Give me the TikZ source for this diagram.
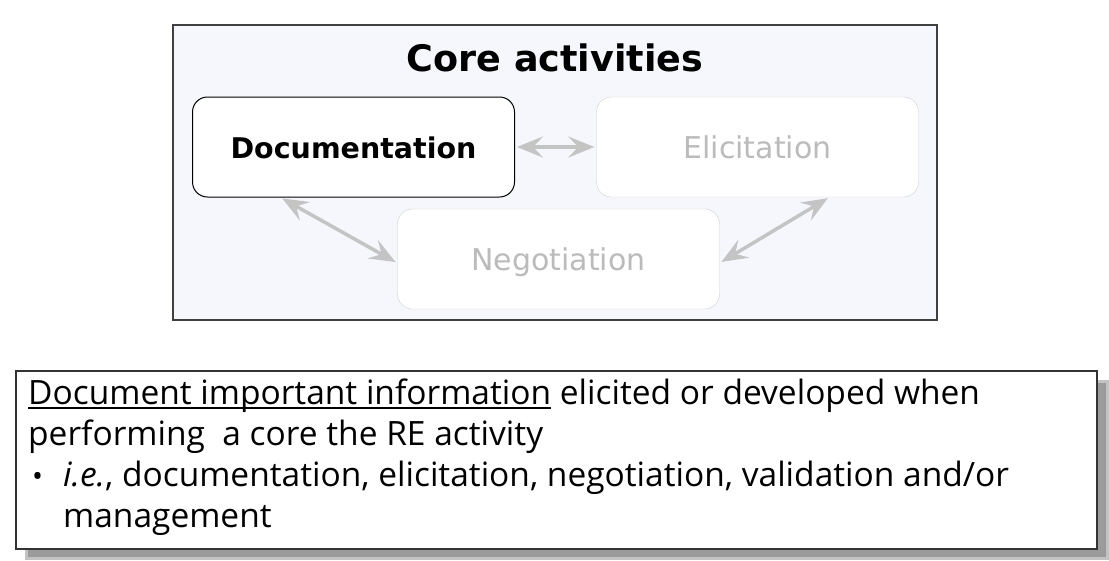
\documentclass[tikz,border=0pt]{standalone}
\usepackage{fontspec}
\setmainfont{DejaVu Sans}
\newfontfamily\notefont{Open Sans}
\usepackage{tikz}
\usetikzlibrary{
    arrows.meta,
    positioning
}
\definecolor{panelbg}{HTML}{F5F7FC}
\definecolor{fadegray}{HTML}{C4C4C4}
\definecolor{fadetext}{HTML}{BBBBBB}
\definecolor{shadowgray}{HTML}{9B9B9B}
\newcommand{\noteline}[1]{\leavevmode\setbox0\hbox{#1}\rlap{\rule[-4.5pt]{\wd0}{2pt}}\box0\relax}

\begin{document}
\begin{tikzpicture}[
        x=1pt, y=-1pt,
        >={Stealth[length=26pt, width=21pt, inset=10pt]},
        activity/.style={
            rectangle,
            rounded corners=15pt,
            draw,
            fill=white,
            minimum width=322pt,
            minimum height=100pt,
            text height=22pt,
            text depth=0pt,
            font=\fontsize{30}{36}\selectfont
        },
        faded/.style={
            draw=fadegray!80,
            text=fadetext
        },
        link/.style={
            <->,
            draw=fadegray,
            line width=3.5pt,
            shorten <=2pt,
            shorten >=2pt
        }
    ]
        \useasboundingbox (0,0) rectangle (1109,560);
        % core activities
        \node[draw=black!75, line width=1.5pt, fill=panelbg,
            minimum width=764pt, minimum height=295pt] (panel) at (555,172.5) {};
        \node[font=\fontsize{36.5}{44}\selectfont\bfseries] (title) at (555,58) {Core activities};
        \node[activity, line width=1pt, font=\fontsize{28.5}{36}\selectfont\bfseries] (doc) at (353.5,147) {Documentation};
        \node[activity, faded] (eli) at (757.5,147) {Elicitation};
        \node[activity, faded] (neg) at (558.5,259) {Negotiation};
        \draw[link] (doc) -- (eli);
        \draw[link] ([xshift=-73pt]doc.south) -- ([yshift=-4pt]neg.west);
        \draw[link] ([yshift=-4pt]neg.east) -- ([xshift=72pt]eli.south);
        % description
        \fill[shadowgray!60] (25,380) rectangle (1109,560);
        \fill[shadowgray] (28,383) rectangle (1106,557);
        \node[draw=black!80, line width=1.5pt, fill=white, anchor=north west,
            minimum width=1081pt, minimum height=178pt] (note) at (15,370) {};
        \node[anchor=north west, align=left, inner sep=0pt,
            font=\notefont\fontsize{33.5}{41}\selectfont] (desc) at (28,379)
            {\noteline{Document important information} elicited or developed when\\
             performing\ \ a core the RE activity\\
             \makebox[35pt][l]{\hspace{4pt}{\fontsize{29}{29}\selectfont\textbullet}}\textit{i.e.}, documentation, elicitation, negotiation, validation and/or\\
             \hspace{35pt}management};
    \end{tikzpicture}
\end{document}
